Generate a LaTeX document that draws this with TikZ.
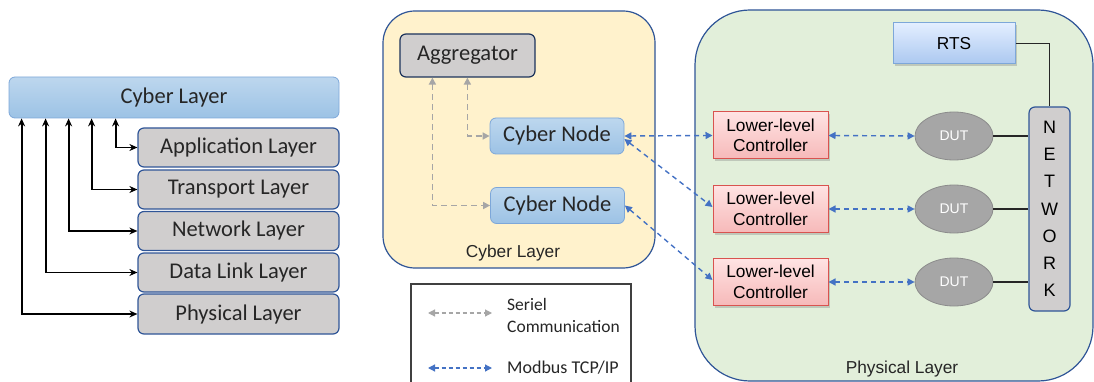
\documentclass[tikz,border=0pt]{standalone}
\usepackage{fontspec}
\usetikzlibrary{arrows.meta,shadows,shapes.geometric}
\newfontfamily\calfont{Carlito}
\newfontfamily\arifont{Liberation Sans}
\definecolor{txt}{HTML}{262626}
\definecolor{dkblue}{HTML}{2F5597}
\definecolor{midblue}{HTML}{4472C4}
\definecolor{ltblueT}{HTML}{BDD7EE}
\definecolor{ltblueB}{HTML}{9CC2E5}
\definecolor{ltblueD}{HTML}{7DA7D9}
\definecolor{layergray}{HTML}{D0CECE}
\definecolor{yel}{HTML}{FFF2CC}
\definecolor{grn}{HTML}{E2EFDA}
\definecolor{serialgray}{HTML}{A6A6A6}
\definecolor{pinkT}{HTML}{FFE3E3}
\definecolor{pinkB}{HTML}{F6B9B9}
\definecolor{pinkD}{HTML}{D9534F}
\definecolor{rtsT}{HTML}{E3EEFF}
\definecolor{rtsB}{HTML}{ABC8F0}
\definecolor{dutfill}{HTML}{A6A6A6}
\definecolor{dutline}{HTML}{8C8C8C}
\tikzset{
  bluebox/.style={draw=ltblueD, line width=0.8pt, rounded corners=6pt,
    top color=ltblueT, bottom color=ltblueB, text=txt, inner sep=0pt},
  layerbox/.style={draw=dkblue, line width=1.2pt, rounded corners=6pt,
    fill=layergray, text=txt, font=\calfont\fontsize{22.5}{25}\selectfont,
    minimum width=201pt, inner sep=0pt},
  aggbox/.style={draw=dkblue!60!black, line width=1.2pt, rounded corners=6pt,
    fill=layergray, text=txt, inner sep=0pt},
  llcbox/.style={draw=pinkD, line width=1pt, top color=pinkT, bottom color=pinkB,
    text=black, font=\arifont\fontsize{17.3}{20.5}\selectfont, align=center,
    minimum width=115pt, minimum height=47pt, inner sep=0pt,
    drop shadow={shadow xshift=2pt, shadow yshift=-2pt, opacity=0.35}},
  dutnode/.style={ellipse, draw=dutline, line width=0.8pt, fill=dutfill,
    text=white, font=\arifont\fontsize{14}{16}\selectfont,
    minimum width=78pt, minimum height=48pt, inner sep=0pt},
  blkarrow/.style={draw=black, line width=1.8pt, {Stealth[length=8pt,width=7pt]}-{Stealth[length=8pt,width=7pt]}},
  serial/.style={draw=serialgray, line width=1.6pt, dash pattern=on 6pt off 4pt,
    {Triangle[length=7pt,width=7pt]}-{Triangle[length=7pt,width=7pt]}},
  modbus/.style={draw=midblue, line width=1.4pt, dash pattern=on 5pt off 4pt,
    {Triangle[length=7pt,width=7pt]}-{Triangle[length=7pt,width=7pt]}},
  wire/.style={draw=black!85, line width=1.2pt},
  grouplabel/.style={text=txt, font=\arifont\fontsize{17.3}{20}\selectfont, inner sep=0pt},
}
\begin{document}
\begin{tikzpicture}[x=1pt, y=-1pt]
\useasboundingbox (0,0) rectangle (1094,382);
\clip (0,0) rectangle (1094,382);

% ---------- protocol stack ----------
\node[bluebox, minimum width=330pt, minimum height=41pt,
  font=\calfont\fontsize{22.5}{25}\selectfont] (cyberL) at (174,97.5) {Cyber Layer};
\node[layerbox, minimum height=39pt] (app) at (238.5,147.5) {Application Layer};
\node[layerbox, minimum height=39pt] (trans) at (238.5,189.5) {Transport Layer};
\node[layerbox, minimum height=39pt] (net) at (238.5,231) {Network Layer};
\node[layerbox, minimum height=39pt] (dll) at (238.5,272.5) {Data Link Layer};
\node[layerbox, minimum height=40pt] (phy) at (238.5,314) {Physical Layer};

\draw[blkarrow] ([xshift=107pt]cyberL.south west) |- (app.west);
\draw[blkarrow] ([xshift=83pt]cyberL.south west) |- (trans.west);
\draw[blkarrow] ([xshift=60pt]cyberL.south west) |- (net.west);
\draw[blkarrow] ([xshift=37pt]cyberL.south west) |- (dll.west);
\draw[blkarrow] ([xshift=13pt]cyberL.south west) |- (phy.west);

% ---------- cyber layer group ----------
\node[draw=dkblue, line width=1.2pt, fill=yel, rounded corners=32pt,
  minimum width=272pt, minimum height=257pt, inner sep=0pt] (cybG) at (519,139.5) {};
\node[grouplabel] (cybGlabel) at (513,253) {Cyber Layer};
\node[aggbox, minimum width=135pt, minimum height=43pt,
  font=\calfont\fontsize{22.5}{25}\selectfont] (agg) at (467.5,55.5) {Aggregator};
\node[bluebox, minimum width=134pt, minimum height=36pt,
  font=\calfont\fontsize{22.5}{25}\selectfont] (cn1) at (557,136) {Cyber Node};
\node[bluebox, minimum width=134pt, minimum height=36pt,
  font=\calfont\fontsize{22.5}{25}\selectfont] (cn2) at (557.5,205.5) {Cyber Node};

\draw[serial] ([xshift=68pt]agg.south west) |- (cn1.west);
\draw[serial] ([xshift=33pt]agg.south west) |- (cn2.west);

% ---------- physical layer group ----------
\draw[draw=dkblue, line width=1.2pt, fill=grn, rounded corners=55pt]
  (695,10) rectangle (1093,381);
\node[grouplabel] (phyGlabel) at (902,369) {Physical Layer};

\node[draw=ltblueD, line width=1pt, top color=rtsT, bottom color=rtsB,
  minimum width=122pt, minimum height=41pt, inner sep=0pt,
  font=\arifont\fontsize{17.3}{20}\selectfont, text=black,
  drop shadow={shadow xshift=2pt, shadow yshift=-2pt, opacity=0.35}] (rts) at (954,43.5) {RTS};

\node[draw=dkblue, line width=1.2pt, fill=layergray, rounded corners=6pt,
  minimum width=41pt, minimum height=204pt, inner sep=0pt, align=center,
  font=\arifont\fontsize{18}{27.2}\selectfont, text=black] (network) at (1049.5,209)
  {N\\E\\T\\W\\O\\R\\K};

\node[llcbox] (llc1) at (770.5,135.5) {Lower-level\\Controller};
\node[llcbox] (llc2) at (770.5,209) {Lower-level\\Controller};
\node[llcbox] (llc3) at (770.5,282) {Lower-level\\Controller};

\node[dutnode] (dut1) at (954,136) {DUT};
\node[dutnode] (dut2) at (954,209) {DUT};
\node[dutnode] (dut3) at (954,282) {DUT};

\draw[wire] (rts.east) -| (network.north);
\draw[wire] (dut1.east) -- (dut1.east -| network.west);
\draw[wire] (dut2.east) -- (dut2.east -| network.west);
\draw[wire] (dut3.east) -- (dut3.east -| network.west);

\draw[modbus] (llc1.east) -- (dut1.west);
\draw[modbus] (llc2.east) -- (dut2.west);
\draw[modbus] (llc3.east) -- (dut3.west);

\draw[modbus] (cn1.east) -- (llc1.west);
\draw[modbus] ([yshift=-3pt]cn1.east) -- ([yshift=2pt]llc2.west);
\draw[modbus] (cn2.east) -- ([yshift=2pt]llc3.west);

% ---------- legend ----------
\draw[draw=black!75, line width=1.2pt, fill=white] (411,284) rectangle (631,395);
\coordinate (ls1) at (428,313);
\coordinate (le1) at (492,313);
\coordinate (ls2) at (428,368);
\coordinate (le2) at (492,368);
\draw[serial, line width=1.2pt, dash pattern=on 4pt off 3pt] (ls1) -- (le1);
\draw[modbus, line width=1.2pt, dash pattern=on 4pt off 3pt] (ls2) -- (le2);
\node[anchor=west, align=left, text=txt, inner sep=0pt,
  font=\calfont\fontsize{17.5}{22}\selectfont] (lt1) at (507,315) {Seriel\\Communication};
\node[anchor=west, text=txt, inner sep=0pt,
  font=\calfont\fontsize{18}{20}\selectfont] (lt2) at (507,368) {Modbus TCP/IP};
\end{tikzpicture}
\end{document}
